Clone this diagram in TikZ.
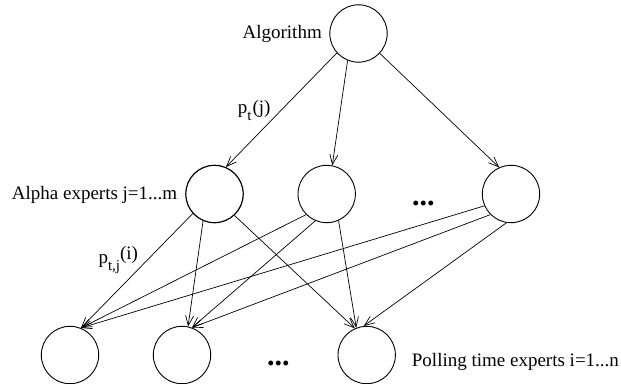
\documentclass[tikz,border=0pt]{standalone}
\usepackage{fontspec}
\setmainfont{Liberation Serif}
\usetikzlibrary{arrows.meta}
\newcommand{\lowsub}[1]{\raisebox{-7pt}{\fontsize{15}{15}\selectfont #1}}
\begin{document}
\begin{tikzpicture}[x=1pt,y=-1pt,
  circ/.style={circle,draw,line width=0.9pt,minimum size=57.4pt,inner sep=0pt},
  lbl/.style={inner sep=0pt,font=\fontsize{19}{22}\selectfont},
  dotlbl/.style={inner sep=0pt,font=\fontsize{30}{30}\selectfont\bfseries},
  conn/.style={line width=0.7pt,-{Straight Barb[length=10pt,width=8pt]}}]
\useasboundingbox (0,0) rectangle (621,383);
% nodes
\node[circ] (T)  at (358.5,33.5) {};
\node[circ,line width=1.2pt] (ML) at (214.5,194) {};
\node[circ] (MC) at (326.7,194) {};
\node[circ] (MR) at (511,194) {};
\node[circ] (B1) at (70,355) {};
\node[circ] (B2) at (182,355) {};
\node[circ] (B3) at (366.7,355) {};
% labels
\node[lbl,anchor=base east] (lalg) at (322,38.3) {Algorithm};
\node[lbl,anchor=base west] (lalpha) at (11.7,199.3) {Alpha experts j=1...m};
\node[lbl,anchor=base west] (lpoll) at (411.7,366.7) {Polling time experts i=1...n};
\node[lbl,anchor=base west] (lpt) at (237.7,113.5) {p\lowsub{t}\kern1pt(j)};
\node[lbl,anchor=base west] (lptj) at (98.3,263.7) {p\lowsub{t,j}\raisebox{4pt}{(i)}};
\node[dotlbl] (dm) at (423.3,203) {...};
\node[dotlbl] (db) at (278.3,363.7) {...};
% connectors top -> middle
\draw[conn] (T.222.7) -- (ML.67);
\draw[conn] (T.248.2) -- (MC.79.6);
\draw[conn] (T.317.8) -- (MR.114);
% middle -> bottom
\draw[conn] (ML.222.8) -- (B1.68);
\draw[conn] (ML.247.4) -- (B2.78);
\draw[conn] (ML.313) -- (B3.114);
\draw[conn] (MC.225.4) -- (B1.68);
\draw[conn] (MC.247) -- (B2.70);
\draw[conn] (MC.294.9) -- (B3.111);
\draw[conn] (MR.204.6) -- (B1.68);
\draw[conn] (MR.225.9) -- (B2.70);
\draw[conn] (MR.261.5) -- (B3.96.5);
\end{tikzpicture}
\end{document}
